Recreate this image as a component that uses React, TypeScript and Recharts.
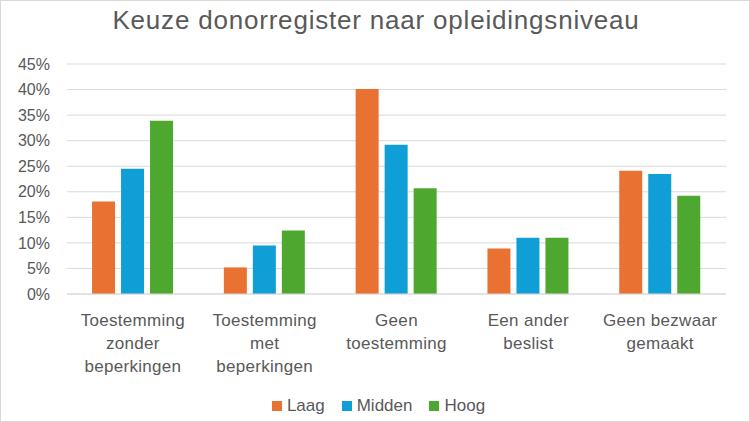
import React from "react";
import { BarChart, Bar, XAxis, YAxis, CartesianGrid, Legend } from "recharts";

const categories = [
  "Toestemming zonder beperkingen",
  "Toestemming met beperkingen",
  "Geen toestemming",
  "Een ander beslist",
  "Geen bezwaar gemaakt",
];
const categoryLabelLines = [
  ["Toestemming", "zonder", "beperkingen"],
  ["Toestemming", "met", "beperkingen"],
  ["Geen", "toestemming"],
  ["Een ander", "beslist"],
  ["Geen bezwaar", "gemaakt"],
];
const seriesNames = ["Laag", "Midden", "Hoog"];
const laag = [18.1, 5.2, 40.1, 8.9, 24.1];
const midden = [24.5, 9.5, 29.2, 11.0, 23.5];
const hoog = [33.9, 12.4, 20.7, 11.0, 19.2];
const yTicks = [0, 5, 10, 15, 20, 25, 30, 35, 40, 45];
const title = "Keuze donorregister naar opleidingsniveau";

const colors = ["#E97132", "#0F9ED5", "#4EA72E"];
const FONT = "'Liberation Sans', Arial, sans-serif";
const TEXT = "#595959";

const data = categories.map((c, i) => ({
  name: c,
  Laag: laag[i],
  Midden: midden[i],
  Hoog: hoog[i],
}));

const CategoryTick = (props: any) => {
  const { x, y, payload } = props;
  const idx = categories.indexOf(payload.value);
  const lines = idx >= 0 ? categoryLabelLines[idx] : [String(payload.value)];
  return (
    <g>
      {lines.map((l, i) => (
        <text
          key={i}
          x={x}
          y={y + 32 + i * 23}
          textAnchor="middle"
          fill={TEXT}
          fontSize={17}
          fontFamily={FONT}
          letterSpacing={0.3}
        >
          {l}
        </text>
      ))}
    </g>
  );
};

const LegendContent = () => (
  <div
    style={{
      display: "flex",
      justifyContent: "center",
      alignItems: "center",
      height: 24,
      paddingLeft: 7,
      fontFamily: FONT,
      fontSize: 17,
      color: TEXT,
    }}
  >
    {seriesNames.map((n, i) => (
      <div
        key={n}
        style={{ display: "flex", alignItems: "center", marginRight: i < seriesNames.length - 1 ? 17 : 0 }}
      >
        <span
          style={{ display: "inline-block", width: 10, height: 10, background: colors[i], marginRight: 5 }}
        />
        <span>{n}</span>
      </div>
    ))}
  </div>
);

export default function App() {
  return (
    <div
      style={{
        position: "absolute",
        left: 0,
        top: 0,
        width: 750,
        height: 422,
        boxSizing: "border-box",
        border: "1px solid #d9d9d9",
        background: "#fff",
      }}
    >
      <div
        style={{
          position: "absolute",
          top: 4,
          left: 0,
          width: 750,
          textAlign: "center",
          fontFamily: FONT,
          fontSize: 26,
          lineHeight: "30px",
          letterSpacing: 0.8,
          color: TEXT,
          zIndex: 2,
        }}
      >
        {title}
      </div>
      <div style={{ position: "absolute", left: -1, top: -1 }}>
        <BarChart
          width={750}
          height={422}
          data={data}
          margin={{ top: 64, right: 24, left: 17, bottom: 4 }}
          barCategoryGap="19%"
          barGap={6}
        >
          <CartesianGrid vertical={false} stroke="#d9d9d9" strokeWidth={1} />
          <XAxis
            dataKey="name"
            axisLine={{ stroke: "#d9d9d9" }}
            tickLine={false}
            tickSize={0}
            tickMargin={0}
            height={100}
            interval={0}
            tick={<CategoryTick />}
          />
          <YAxis
            width={50}
            domain={[0, 45]}
            ticks={yTicks}
            axisLine={false}
            tickLine={false}
            tickSize={0}
            tickMargin={17}
            tickFormatter={(v: number) => `${v}%`}
            tick={{ fill: TEXT, fontSize: 16, fontFamily: FONT }}
          />
          <Legend
            verticalAlign="bottom"
            content={<LegendContent />}
            wrapperStyle={{ left: 0, width: 750 }}
          />
          {seriesNames.map((n, i) => (
            <Bar key={n} dataKey={n} fill={colors[i]} isAnimationActive={false} />
          ))}
        </BarChart>
      </div>
    </div>
  );
}
